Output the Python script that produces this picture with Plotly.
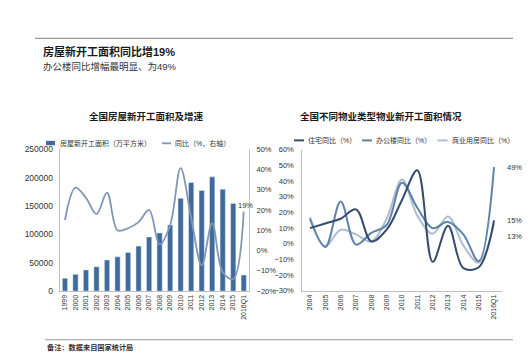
import plotly.graph_objects as go

W, H = 532, 363
def X(p): return p / W
def Y(p): return 1 - p / H

FONT = "Liberation Sans, Arial, Noto Sans CJK SC, sans-serif"

# ---------------- data ----------------
years_left = ['1999', '2000', '2001', '2002', '2003', '2004', '2005', '2006', '2007',
              '2008', '2009', '2010', '2011', '2012', '2013', '2014', '2015', '2016Q1']
area = [22579, 29583, 37394, 42801, 54708, 60414, 68064, 79253, 95402,
        102553, 116422, 163647, 191237, 177334, 201208, 179592, 154454, 28277]
area_yoy = [15, 31, 26, 18, 28.5, 10, 11, 14, 20, 3, 12.5, 40.6, 16.2, -7.3, 13.5, -10.7, -14, 19.2]

years_right = ['2004', '2005', '2006', '2007', '2008', '2009', '2010', '2011', '2012',
               '2013', '2014', '2015', '2016Q1']
resi_yoy = [10, 13, 16, 22, 1.5, 9, 28, 47, -11.5, 11.6, -15.5, -15, 15]
office_yoy = [16, -2, 27, -0.5, 7, 12, 39, 23, 10, 14, 6, -11, 49]
comm_yoy = [17, -1.5, 9, 6, 1.5, 16, 41, 18, 6.5, 17.5, -1, -12, 13]

left_ticks = [0, 50000, 100000, 150000, 200000, 250000]

C_BAR = "#3F6A9B"
C_YOY = "#8296B6"
C_RESI = "#364C6E"
C_OFFICE = "#5F83AA"
C_COMM = "#AEBDD0"
AXIS = "#BFBFBF"
TXT = "#333333"

fig = go.Figure()

fig.add_trace(go.Bar(x=years_left, y=area, marker_color=C_BAR, xaxis="x", yaxis="y",
                     showlegend=False, width=0.5))
fig.add_trace(go.Scatter(x=years_left, y=area_yoy, mode="lines", xaxis="x", yaxis="y2",
                         line=dict(color=C_YOY, width=1.8, shape="spline", smoothing=1.0),
                         showlegend=False))

for vals, col in [(comm_yoy, C_COMM), (office_yoy, C_OFFICE), (resi_yoy, C_RESI)]:
    fig.add_trace(go.Scatter(x=years_right, y=vals, mode="lines", xaxis="x2", yaxis="y3",
                             line=dict(color=col, width=2, shape="spline", smoothing=1.0),
                             showlegend=False))

tickfont = dict(family=FONT, size=7.5, color=TXT)
fig.update_layout(
    width=W, height=H, autosize=False,
    margin=dict(l=0, r=0, t=0, b=0),
    paper_bgcolor="white", plot_bgcolor="white",
    font=dict(family=FONT, color=TXT),
    bargap=0.5,
    xaxis=dict(domain=[X(51.7), X(241)], anchor="y", type="category",
               tickangle=-90, tickfont=dict(family=FONT, size=7, color=TXT),
               showline=True, linecolor=AXIS, linewidth=1, ticks="", showgrid=False,
               range=[-0.5, len(years_left) - 0.5]),
    yaxis=dict(domain=[Y(286), Y(140)], anchor="x", range=[0, 250000],
               tickvals=left_ticks, ticktext=[str(v) for v in left_ticks],
               tickfont=dict(family=FONT, size=8.5, color=TXT),
               showline=True, linecolor=AXIS, showgrid=False, zeroline=False, ticks="",
               ticklabelstandoff=4),
    yaxis2=dict(domain=[Y(286), Y(140)], anchor="x", overlaying="y", side="right",
                range=[-20, 50], dtick=10, ticksuffix="%", tickfont=tickfont,
                showline=True, linecolor=AXIS, showgrid=False, zeroline=False, ticks="",
                ticklabelstandoff=5),
    xaxis2=dict(domain=[X(294.3), X(493.7)], anchor="y3", type="category",
                tickangle=-90, tickfont=dict(family=FONT, size=7, color=TXT),
                showline=True, linecolor=AXIS, ticks="", showgrid=False,
                range=[-0.5, len(years_right) - 0.5]),
    yaxis3=dict(domain=[Y(285.7), Y(140.7)], anchor="x2", range=[-30, 60], dtick=10,
                ticksuffix="%", tickfont=tickfont, showline=True, linecolor=AXIS,
                showgrid=False, zeroline=False, ticks="", ticklabelstandoff=6),
)

shapes = []
ann = []

# frame lines
shapes.append(dict(type="line", xref="paper", yref="paper", x0=X(27), x1=X(505),
                   y0=Y(26), y1=Y(26), line=dict(color="#999999", width=1.2)))
shapes.append(dict(type="line", xref="paper", yref="paper", x0=X(37), x1=X(505),
                   y0=Y(336), y1=Y(336), line=dict(color="#999999", width=1.2)))

def text(x, y, s, size, bold=False, anchor="left", color=TXT):
    ann.append(dict(xref="paper", yref="paper", x=X(x), y=Y(y), text=f"<b>{s}</b>" if bold else s,
                    showarrow=False, xanchor=anchor, yanchor="middle",
                    font=dict(family=FONT, size=size, color=color)))

text(33, 40, "房屋新开工面积同比增19%", 11, bold=True, color="#1a1a1a")
text(33, 55, "办公楼同比增幅最明显、为49%", 9.5, color="#333333")
text(138.5, 106, "全国房屋新开工面积及增速", 9.5, bold=True, anchor="center", color="#1a1a1a")
text(372.5, 106, "全国不同物业类型物业新开工面积情况", 9.5, bold=True, anchor="center", color="#1a1a1a")
text(37, 344, "备注：数据来自国家统计局", 7.2, bold=True, color="#333333")

# left legend
shapes.append(dict(type="rect", xref="paper", yref="paper", x0=X(38), x1=X(47),
                   y0=Y(136), y1=Y(131.5), fillcolor=C_BAR, line=dict(width=0)))
text(50, 134, "房屋新开工面积（万平方米）", 7)
shapes.append(dict(type="line", xref="paper", yref="paper", x0=X(154), x1=X(163),
                   y0=Y(134), y1=Y(134), line=dict(color=C_YOY, width=1.8)))
text(165, 134, "同比（%，右轴）", 7)

# right legend
for x0, col, s in [(286, C_RESI, "住宅同比（%）"), (354, C_OFFICE, "办公楼同比（%）"),
                   (429.5, C_COMM, "商业用房同比（%）")]:
    shapes.append(dict(type="line", xref="paper", yref="paper", x0=X(x0), x1=X(x0 + 10),
                       y0=Y(131), y1=Y(131), line=dict(color=col, width=2)))
    text(x0 + 12, 131, s, 7)

# data labels
ann.append(dict(xref="x", yref="y2", x=years_left[-1], y=area_yoy[-1],
                text=f"{area_yoy[-1]:.0f}%", showarrow=False, xanchor="center", yanchor="middle",
                yshift=6, xshift=2, font=dict(family=FONT, size=7.5, color=TXT)))
for vals, ys in [(office_yoy, 0), (resi_yoy, 0), (comm_yoy, -13)]:
    ann.append(dict(xref="x2", yref="y3", x=years_right[-1], y=vals[-1],
                    text=f"{vals[-1]:.0f}%", showarrow=False, xanchor="left", yanchor="middle",
                    xshift=11, yshift=ys, font=dict(family=FONT, size=7.5, color=TXT)))

fig.update_layout(shapes=shapes, annotations=ann)
fig.write_html("out.html")
